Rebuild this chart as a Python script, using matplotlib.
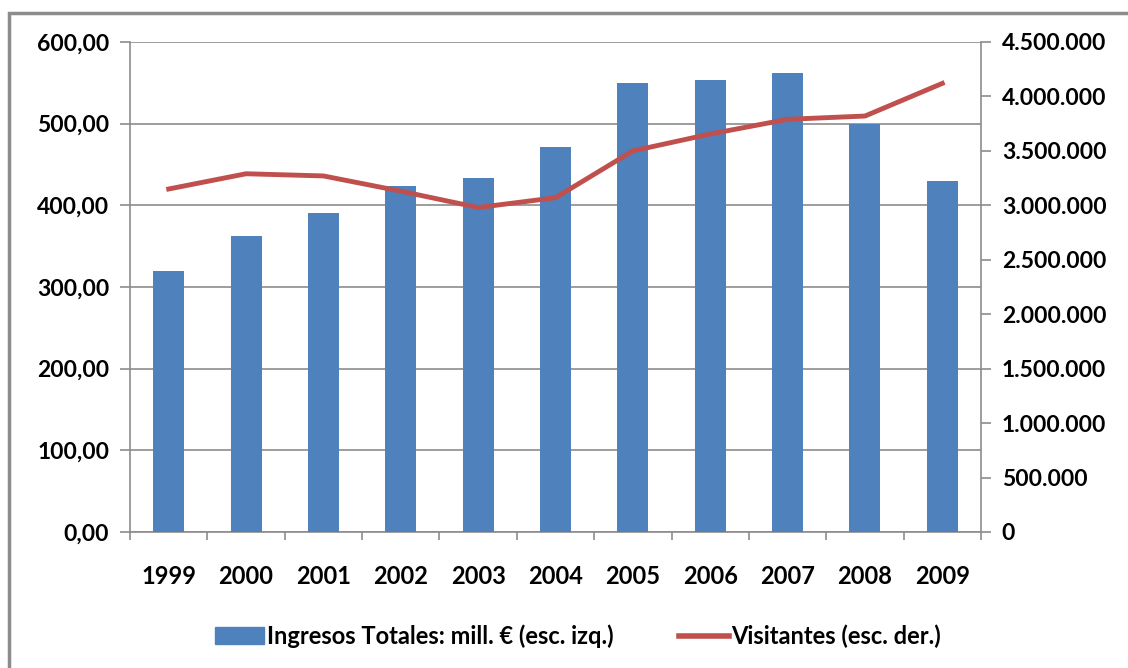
import matplotlib.pyplot as plt
import numpy as np
from matplotlib.patches import Rectangle
from matplotlib.lines import Line2D
from matplotlib.ticker import FuncFormatter

years = ["1999", "2000", "2001", "2002", "2003", "2004",
         "2005", "2006", "2007", "2008", "2009"]
ingresos = [320, 362, 390, 424, 433, 471, 550, 554, 562, 499, 430]
visitantes = [3150000, 3290000, 3270000, 3130000, 2980000, 3070000,
              3500000, 3655000, 3790000, 3820000, 4120000]

plt.rcParams['font.family'] = ['Lato', 'DejaVu Sans']
plt.rcParams['font.weight'] = 'bold'

fig = plt.figure(figsize=(11.28, 6.68), dpi=100)
ax = fig.add_axes([130/1128, 136/668, 851/1128, 490/668])

# outer frame of the chart
fig.patches.append(Rectangle((9/1128, -0.1), 1.2, 655/668 + 0.1,
                             transform=fig.transFigure, fill=False,
                             edgecolor='#8c8c8c', linewidth=2.5, clip_on=False))

x = np.arange(len(years))
ax.bar(x, ingresos, width=0.4, color='#4f81bd', zorder=3)
ax.set_xlim(-0.5, len(years) - 0.5)
ax.set_ylim(0, 600)
ax.set_yticks(np.arange(0, 601, 100))
ax.yaxis.set_major_formatter(FuncFormatter(lambda v, p: f"{v:.2f}".replace('.', ',')))
ax.grid(axis='y', color='#8c8c8c', linewidth=1.2, zorder=0)
ax.set_xticks(x)
ax.set_xticklabels(years)
ax.set_xticks(np.arange(-0.5, len(years)), minor=True)
ax.tick_params(axis='x', which='major', length=0, pad=24, labelsize=17)
ax.tick_params(axis='x', which='minor', length=6, color='#8c8c8c', width=1.2)
ax.tick_params(axis='y', length=7, color='#8c8c8c', width=1.2, labelsize=16.5, pad=8)
for s in ['top', 'right']:
    ax.spines[s].set_visible(False)
for s in ['left', 'bottom']:
    ax.spines[s].set_color('#8c8c8c')
    ax.spines[s].set_linewidth(1.2)

ax2 = ax.twinx()
ax2.plot(x, visitantes, color='#c0504d', linewidth=3.5, zorder=4)
ax2.set_ylim(0, 4500000)
ax2.set_yticks(np.arange(0, 4500001, 500000))
ax2.yaxis.set_major_formatter(FuncFormatter(lambda v, p: f"{int(v):,}".replace(',', '.')))
ax2.tick_params(axis='y', length=7, color='#8c8c8c', width=1.2, labelsize=16.5, pad=8)
for s in ['top', 'left', 'bottom']:
    ax2.spines[s].set_visible(False)
ax2.spines['right'].set_color('#8c8c8c')
ax2.spines['right'].set_linewidth(1.2)

handles = [Rectangle((0, 0), 1, 1, color='#4f81bd'),
           Line2D([0], [0], color='#c0504d', linewidth=4)]
fig.legend(handles, ["Ingresos Totales: mill. € (esc. izq.)", "Visitantes (esc. der.)"],
           loc='center', bbox_to_anchor=(578/1128, 1 - 636/668), ncol=2,
           frameon=False, fontsize=17, handlelength=2.1, handletextpad=0.1,
           columnspacing=2.8, borderpad=0)

fig.savefig("out.png", dpi=100)
